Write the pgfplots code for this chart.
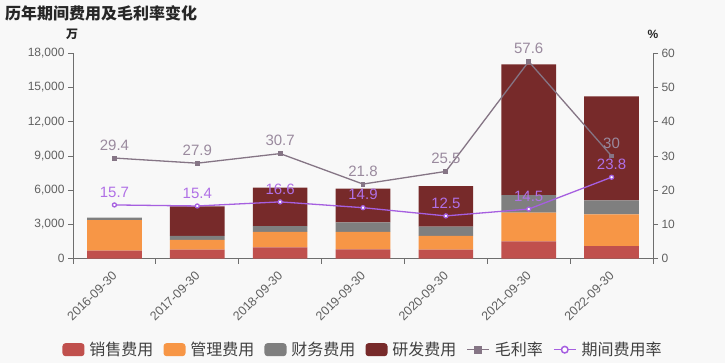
\documentclass[border=0pt]{standalone}
\usepackage{fontspec}
\setmainfont{Liberation Sans}
\newfontfamily\cjk{Noto Sans CJK SC}
\usepackage{pgfplots}
\pgfplotsset{compat=1.18}
\definecolor{bg}{HTML}{F8F8F8}
\definecolor{cSales}{HTML}{C0504D}
\definecolor{cMgmt}{HTML}{F79646}
\definecolor{cFin}{HTML}{7F7F7F}
\definecolor{cRD}{HTML}{772A2A}
\definecolor{cGM}{HTML}{857585}
\definecolor{cGMl}{HTML}{9A8A9E}
\definecolor{cER}{HTML}{A65FE0}
\definecolor{cERl}{HTML}{B070E6}
\definecolor{axisgray}{HTML}{6E6E6E}
\definecolor{textgray}{HTML}{606060}
\pgfplotsset{
  base/.style={scale only axis, width=580pt, height=205.4pt,
    at={(73pt,104.3pt)}, anchor=south west,
    xmin=-0.5, xmax=6.5,
    axis line style={axisgray, line width=0.8pt},
    tick style={axisgray, line width=0.8pt},
    major tick length=5pt,
    tick align=outside,
    tick label style={font=\fontsize{12}{14}\selectfont, text=textgray},
    /pgf/number format/assume math mode=true,
    clip=false},
  barleg/.style={legend image code/.code={\draw[##1, draw=none, rounded corners=3pt] (0pt,-6.5pt) rectangle (22pt,6.5pt);}},
  lineleg/.style={legend image code/.code={\draw[mark repeat=2, mark phase=2, ##1, line width=1.5pt, mark size=3.3pt] plot coordinates {(0pt,0pt) (11pt,0pt) (22pt,0pt)};}}
}
\begin{document}
\begin{tikzpicture}
\path[use as bounding box, fill=bg] (0,0) rectangle (725pt,363pt);
\node[anchor=west, inner sep=0pt, text=black!85] at (5pt,350pt) {\cjk\bfseries\fontsize{16}{18}\selectfont 历年期间费用及毛利率变化};
\node[inner sep=0pt, text=black!85] at (72pt,329pt) {\cjk\bfseries\fontsize{12}{14}\selectfont 万};
\node[inner sep=0pt, text=black!85] at (653pt,329pt) {\bfseries\fontsize{12}{14}\selectfont \%};

\begin{axis}[base, ybar stacked, bar width=0.66,
  ymin=0, ymax=18000, ytick={0,3000,...,18000},
  scaled y ticks=false,
  yticklabel style={/pgf/number format/.cd, fixed, 1000 sep={,}},
  axis x line*=bottom, axis y line*=left,
  xtick={-0.5,0.5,...,6.5}, x tick label as interval,
  xticklabels={2016-09-30,2017-09-30,2018-09-30,2019-09-30,2020-09-30,2021-09-30,2022-09-30},
  x tick label style={xshift=-3pt, yshift=-5pt, rotate=45, anchor=north east, inner sep=1pt, font=\fontsize{12.5}{14}\selectfont},
]
\addplot+[fill=cSales, draw=none] coordinates {(0,700) (1,790) (2,1000) (3,820) (4,800) (5,1525) (6,1110)};
\addplot+[fill=cMgmt, draw=none] coordinates {(0,2690) (1,850) (2,1340) (3,1520) (4,1200) (5,2505) (6,2780)};
\addplot+[fill=cFin, draw=none] coordinates {(0,200) (1,350) (2,525) (3,850) (4,820) (5,1550) (6,1225)};
\addplot+[fill=cRD, draw=none] coordinates {(0,0) (1,2600) (2,3355) (3,2940) (4,3530) (5,11450) (6,9115)};
\end{axis}

\begin{axis}[base,
  ymin=0, ymax=60, ytick={0,10,...,60},
  axis y line*=right, axis x line=none,
  legend columns=6,
  legend style={at={(0.5,-0.443)}, anchor=center, draw=none, fill=none,
    font=\cjk\fontsize{16}{18}\selectfont, text=black!75,
    /tikz/every odd column/.append style={column sep=3pt},
    /tikz/every even column/.append style={column sep=8pt},
    nodes={inner sep=2pt}},
]
\addlegendimage{barleg, fill=cSales}
\addlegendentry{销售费用}
\addlegendimage{barleg, fill=cMgmt}
\addlegendentry{管理费用}
\addlegendimage{barleg, fill=cFin}
\addlegendentry{财务费用}
\addlegendimage{barleg, fill=cRD}
\addlegendentry{研发费用}
\addplot[lineleg, cGM, line width=1.3pt, mark=square*, mark size=1.8pt, mark options={fill=cGM, draw=cGM},
  nodes near coords, nodes near coords style={font=\fontsize{15}{16}\selectfont, text=cGMl, anchor=center, yshift=13pt}]
  coordinates {(0,29.4) (1,27.9) (2,30.7) (3,21.8) (4,25.5) (5,57.6) (6,30)};
\addlegendentry{毛利率}
\addplot[lineleg, cER, line width=1.3pt, mark=*, mark size=2pt, mark options={fill=white, draw=cER},
  nodes near coords, nodes near coords style={font=\fontsize{15}{16}\selectfont, text=cERl, anchor=center, yshift=13pt}]
  coordinates {(0,15.7) (1,15.4) (2,16.6) (3,14.9) (4,12.5) (5,14.5) (6,23.8)};
\addlegendentry{期间费用率}
\end{axis}
\end{tikzpicture}
\end{document}
